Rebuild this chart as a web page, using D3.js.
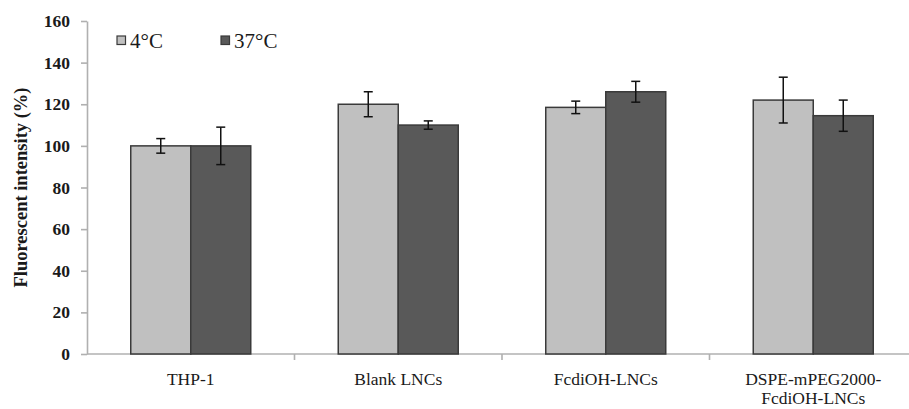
<!DOCTYPE html>
<html>
<head>
<meta charset="utf-8">
<script src="https://cdn.jsdelivr.net/npm/d3@7"></script>
<style>
	body { margin: 0; background: #fff; }
	svg { display: block; font-family: "Liberation Serif", "Times New Roman", serif; }
</style>
</head>
<body>
<svg id="chart" width="909" height="409"></svg>
<script>
const categories = [["THP-1"], ["Blank LNCs"], ["FcdiOH-LNCs"], ["DSPE-mPEG2000-", "FcdiOH-LNCs"]]
const series = ["4°C", "37°C"]
const values4 = [100, 120, 118.5, 122]
const err4 = [3.5, 6, 3, 11]
const values37 = [100, 110, 126, 114.5]
const err37 = [9, 2, 5, 7.5]
const yTicks = [0, 20, 40, 60, 80, 100, 120, 140, 160]

const colors = ["#c0c0c0", "#595959"]
const svg = d3.select("#chart")
const margin = {left: 87, top: 21, bottom: 55}
const height = 409

const x = d3.scaleBand()
	.domain(d3.range(categories.length))
	.range([margin.left, margin.left + 4*207.5])
	.padding(0)
const inner = d3.scaleBand()
	.domain(d3.range(series.length))
	.range([(x.bandwidth()-120)/2, (x.bandwidth()+120)/2])
const y = d3.scaleLinear().domain([0, 160]).range([height - margin.bottom, margin.top])

// y axis
const yAxis = svg.append("g")
	.attr("transform", `translate(${margin.left},0)`)
	.call(d3.axisLeft(y).tickValues(yTicks).tickSize(6).tickPadding(11).tickSizeOuter(0))
yAxis.select(".domain").attr("stroke", "#b0b0b0").attr("stroke-width", 1.6)
yAxis.selectAll(".tick line").attr("stroke", "#b0b0b0").attr("stroke-width", 1.6)
yAxis.selectAll(".tick text")
	.attr("font-size", 17.5).attr("font-weight", "bold").attr("fill", "#1a1a1a")
	.attr("font-family", "Liberation Serif")

// x axis line + boundary ticks
const xg = svg.append("g")
xg.append("line")
	.attr("x1", margin.left).attr("x2", 909)
	.attr("y1", y(0)).attr("y2", y(0))
	.attr("stroke", "#b0b0b0").attr("stroke-width", 1.6)
xg.selectAll(".xt")
	.data(d3.range(1, categories.length))
	.enter().append("line")
	.attr("x1", i => x(i)).attr("x2", i => x(i))
	.attr("y1", y(0)).attr("y2", y(0) + 6)
	.attr("stroke", "#b0b0b0").attr("stroke-width", 1.6)

// bars
const data = categories.map((c, i) => [
	{cat: i, s: 0, v: values4[i], e: err4[i]},
	{cat: i, s: 1, v: values37[i], e: err37[i]}
]).flat()

const bars = svg.append("g")
bars.selectAll("rect")
	.data(data)
	.enter().append("rect")
	.attr("x", d => x(d.cat) + inner(d.s))
	.attr("y", d => y(d.v))
	.attr("width", inner.bandwidth())
	.attr("height", d => y(0) - y(d.v))
	.attr("fill", d => colors[d.s])
	.attr("stroke", "#3a3a3a").attr("stroke-width", 1.5)

// error bars
const eb = svg.append("g").attr("stroke", "#111").attr("stroke-width", 1.5)
data.forEach(d => {
	const cx = x(d.cat) + inner(d.s) + inner.bandwidth()/2
	eb.append("line").attr("x1", cx).attr("x2", cx).attr("y1", y(d.v + d.e)).attr("y2", y(d.v - d.e))
	eb.append("line").attr("x1", cx-4.5).attr("x2", cx+4.5).attr("y1", y(d.v + d.e)).attr("y2", y(d.v + d.e))
	eb.append("line").attr("x1", cx-4.5).attr("x2", cx+4.5).attr("y1", y(d.v - d.e)).attr("y2", y(d.v - d.e))
})

// category labels, one text per line
const labels = svg.append("g").attr("font-size", 17.5).attr("fill", "#1a1a1a").attr("text-anchor", "middle")
categories.forEach((lines, i) => {
	lines.forEach((l, j) => labels.append("text")
		.attr("x", x(i) + x.bandwidth()/2)
		.attr("y", 385 + j*19)
		.text(l))
})

// y title
svg.append("text")
	.attr("transform", `translate(27,${(y(0)+y(160))/2}) rotate(-90)`)
	.attr("text-anchor", "middle")
	.attr("font-size", 18.5).attr("font-weight", "bold").attr("fill", "#1a1a1a")
	.text("Fluorescent intensity (%)")

// legend
const legendX = [117, 221]
const legend = svg.append("g")
series.forEach((s, i) => {
	legend.append("rect")
		.attr("x", legendX[i]).attr("y", 36).attr("width", 8.5).attr("height", 8.5)
		.attr("fill", colors[i]).attr("stroke", "#3a3a3a").attr("stroke-width", 1.2)
	legend.append("text")
		.attr("x", legendX[i] + 13).attr("y", 48)
		.attr("font-size", 21).attr("fill", "#1a1a1a")
		.text(s)
})
</script>
</body>
</html>
